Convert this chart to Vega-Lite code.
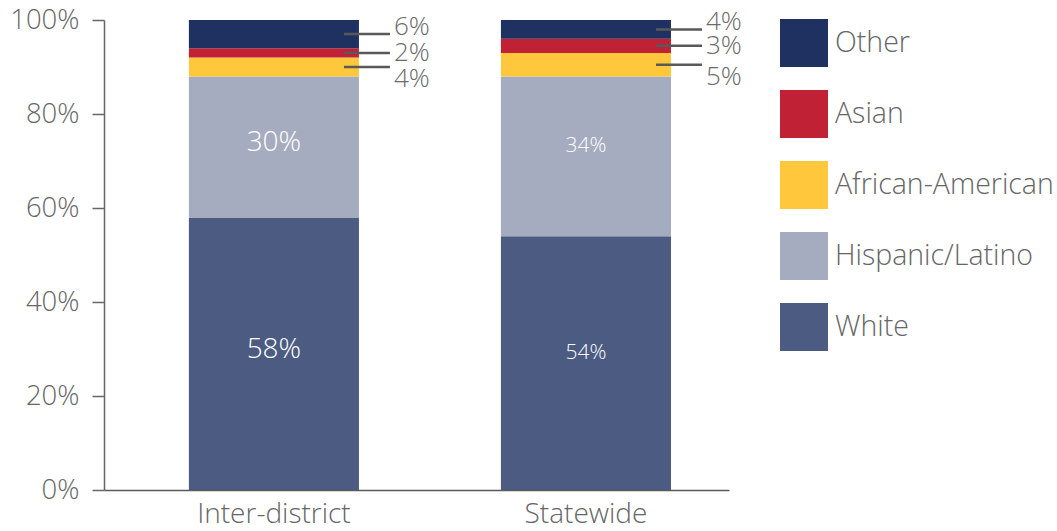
{
  "$schema": "https://vega.github.io/schema/vega-lite/v6.json",
  "autosize": "none",
  "padding": {"left": 104, "top": 20, "right": 328, "bottom": 41},
  "width": 625,
  "height": 470,
  "background": "white",
  "config": {
    "view": {"stroke": null},
    "font": "Open Sans",
    "text": {"font": "Open Sans", "fontWeight": 300}
  },
  "data": {
    "values": [
      {"group": "Inter-district", "race": "White", "value": 58, "order": 1},
      {"group": "Inter-district", "race": "Hispanic/Latino", "value": 30, "order": 2},
      {"group": "Inter-district", "race": "African-American", "value": 4, "order": 3},
      {"group": "Inter-district", "race": "Asian", "value": 2, "order": 4},
      {"group": "Inter-district", "race": "Other", "value": 6, "order": 5},
      {"group": "Statewide", "race": "White", "value": 54, "order": 1},
      {"group": "Statewide", "race": "Hispanic/Latino", "value": 34, "order": 2},
      {"group": "Statewide", "race": "African-American", "value": 5, "order": 3},
      {"group": "Statewide", "race": "Asian", "value": 3, "order": 4},
      {"group": "Statewide", "race": "Other", "value": 4, "order": 5}
    ]
  },
  "transform": [
    {"stack": "value", "groupby": ["group"], "sort": [{"field": "order", "order": "ascending"}], "as": ["v0", "v1"]},
    {"calculate": "(datum.v0 + datum.v1) / 2", "as": "mid"},
    {"calculate": "datum.value + '%'", "as": "label"}
  ],
  "encoding": {
    "x": {
      "field": "group",
      "type": "nominal",
      "sort": ["Inter-district", "Statewide"],
      "scale": {"paddingInner": 0.455, "paddingOuter": 0.229, "align": 0.594},
      "axis": {
        "title": null,
        "labelAngle": 0,
        "ticks": false,
        "labelFont": "Open Sans",
        "labelFontWeight": 300,
        "labelFontSize": 28,
        "labelColor": "#666666",
        "labelPadding": 10,
        "domainColor": "#5a5a5a",
        "domainWidth": 1.5
      }
    }
  },
  "layer": [
    {
      "mark": {"type": "bar"},
      "encoding": {
        "y": {
          "field": "v0",
          "type": "quantitative",
          "scale": {"domain": [0, 100], "nice": false},
          "axis": {
            "title": null,
            "values": [0, 20, 40, 60, 80, 100],
            "labelExpr": "datum.value + '%'",
            "grid": false,
            "tickSize": 12,
            "tickColor": "#666666",
            "tickWidth": 1.5,
            "domainColor": "#666666",
            "domainWidth": 1.5,
            "labelFont": "Open Sans",
            "labelFontWeight": 300,
            "labelFontSize": 27.5,
            "labelColor": "#666666",
            "labelPadding": 13
          }
        },
        "y2": {"field": "v1"},
        "color": {
          "field": "race",
          "type": "nominal",
          "scale": {
            "domain": ["Other", "Asian", "African-American", "Hispanic/Latino", "White"],
            "range": ["#1f3160", "#c02135", "#ffc83c", "#a6acbf", "#4b5b81"]
          },
          "legend": {
            "title": null,
            "orient": "none",
            "legendX": 676,
            "legendY": -1,
            "symbolType": "square",
            "symbolSize": 2304,
            "symbolStrokeWidth": 0,
            "labelFont": "Open Sans",
            "labelFontWeight": 300,
            "labelFontSize": 28.5,
            "labelColor": "#666666",
            "labelOffset": 7,
            "rowPadding": 23,
            "labelLimit": 300
          }
        }
      }
    },
    {
      "transform": [{"filter": "(datum.race === 'White' || datum.race === 'Hispanic/Latino') && datum.group === 'Inter-district'"}],
      "mark": {"type": "text", "color": "white", "fontSize": 28, "dy": -4, "fontWeight": 300},
      "encoding": {
        "y": {"field": "mid", "type": "quantitative"},
        "text": {"field": "label"}
      }
    },
    {
      "transform": [{"filter": "(datum.race === 'White' || datum.race === 'Hispanic/Latino') && datum.group === 'Statewide'"}],
      "mark": {"type": "text", "color": "white", "fontSize": 21, "dy": -10, "fontWeight": 300},
      "encoding": {
        "y": {"field": "mid", "type": "quantitative"},
        "text": {"field": "label"}
      }
    },
    {
      "transform": [{"filter": "datum.race === 'Other' || datum.race === 'Asian' || datum.race === 'African-American'"}],
      "mark": {"type": "rule", "color": "#595959", "strokeWidth": 2.5, "xOffset": -15, "x2Offset": 31},
      "encoding": {
        "x": {"field": "group", "type": "nominal", "bandPosition": 1, "sort": ["Inter-district", "Statewide"]},
        "x2": {"field": "group", "bandPosition": 1},
        "y": {"field": "mid", "type": "quantitative"}
      }
    },
    {
      "transform": [{"filter": "datum.race === 'Other'"}],
      "mark": {"type": "text", "color": "#6b6b6b", "fontSize": 26, "align": "left", "dx": 35, "dy": -7, "fontWeight": 300},
      "encoding": {
        "x": {"field": "group", "type": "nominal", "bandPosition": 1, "sort": ["Inter-district", "Statewide"]},
        "y": {"field": "mid", "type": "quantitative"},
        "text": {"field": "label"}
      }
    },
    {
      "transform": [{"filter": "datum.race === 'Asian'"}],
      "mark": {"type": "text", "color": "#6b6b6b", "fontSize": 26, "align": "left", "dx": 35, "dy": 0, "fontWeight": 300},
      "encoding": {
        "x": {"field": "group", "type": "nominal", "bandPosition": 1, "sort": ["Inter-district", "Statewide"]},
        "y": {"field": "mid", "type": "quantitative"},
        "text": {"field": "label"}
      }
    },
    {
      "transform": [{"filter": "datum.race === 'African-American'"}],
      "mark": {"type": "text", "color": "#6b6b6b", "fontSize": 26, "align": "left", "dx": 35, "dy": 12, "fontWeight": 300},
      "encoding": {
        "x": {"field": "group", "type": "nominal", "bandPosition": 1, "sort": ["Inter-district", "Statewide"]},
        "y": {"field": "mid", "type": "quantitative"},
        "text": {"field": "label"}
      }
    }
  ]
}
